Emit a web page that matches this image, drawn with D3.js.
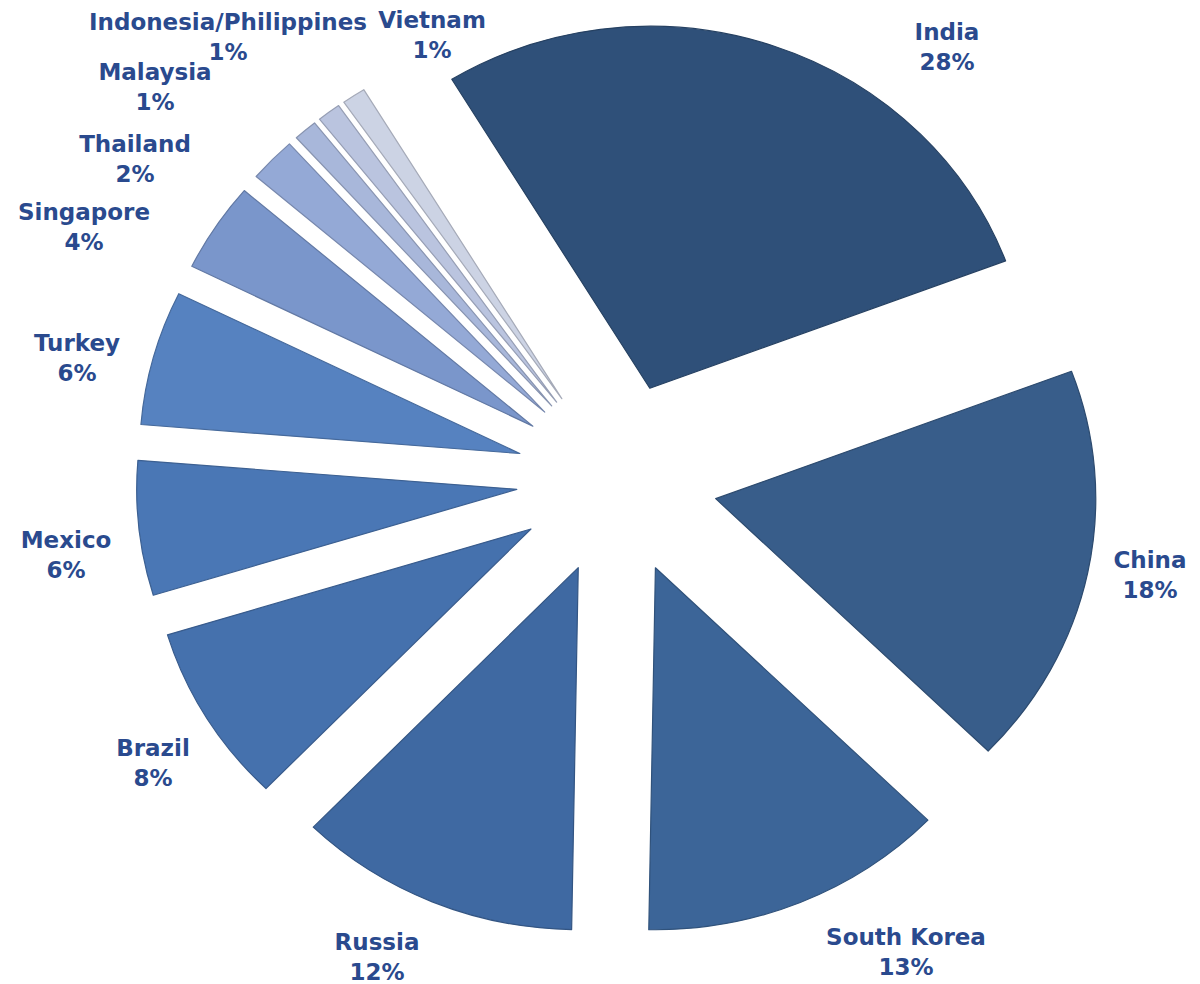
<!DOCTYPE html>
<html>
<head>
<meta charset="utf-8">
<script src="https://cdn.jsdelivr.net/npm/d3@7"></script>
<style>
  html, body { margin: 0; padding: 0; background: #ffffff; }
  svg { display: block; }
  .lbl { font-family: "DejaVu Sans", Verdana, sans-serif; font-weight: bold; font-size: 23px; fill: #2a4a8e; }
</style>
</head>
<body>
<svg id="chart" width="1200" height="984"></svg>
<script>
// Share of total by country (percent)
const countries = ["India", "China", "South Korea", "Russia", "Brazil", "Mexico",
                   "Turkey", "Singapore", "Thailand", "Malaysia", "Indonesia/Philippines", "Vietnam"];
const shares = [28, 18, 13, 12, 8, 6, 6, 4, 2, 1, 1, 1];

// Slice fills, darkest to lightest
const fills = ["#2f5079", "#385d8a", "#3c6598", "#3f69a2", "#4571ad", "#4a77b5",
               "#5682c0", "#7a96cb", "#94a9d6", "#a8b7da", "#bac4df", "#ccd3e4"];

// Label anchors (first-line baseline, centred)
const labelAnchors = [[947, 40], [1150, 568], [906, 945], [377, 950], [153, 756], [66, 548],
                      [77, 351], [84, 220], [135, 152], [155, 80], [228, 30], [432, 28]];

const cx = 617, cy = 479;      // pie centre
const radius = 362;            // slice radius
const explode = 96;            // distance each slice is pulled out
const stretchX = 1.05;         // horizontal aspect of the pie

const svg = d3.select("#chart");

const startDeg = -31.4;
const pie = d3.pie()
  .sort(null)
  .value(d => d.value)
  .startAngle(startDeg * Math.PI / 180)
  .endAngle((startDeg + 360) * Math.PI / 180);

const data = countries.map((c, i) => ({ name: c, value: shares[i], fill: fills[i] }));
const arcs = pie(data);

const arc = d3.arc().innerRadius(0).outerRadius(radius);

const g = svg.append("g")
  .attr("transform", `translate(${cx},${cy}) scale(${stretchX},1)`);

g.selectAll("path.slice")
  .data(arcs)
  .join("path")
  .attr("class", "slice")
  .attr("transform", d => {
    const mid = (d.startAngle + d.endAngle) / 2;
    return `translate(${Math.sin(mid) * explode},${-Math.cos(mid) * explode})`;
  })
  .attr("d", arc)
  .attr("fill", d => d.data.fill)
  .attr("stroke", d => d3.color(d.data.fill).darker(0.6))
  .attr("stroke-width", 1.2)
  .attr("vector-effect", "non-scaling-stroke")
  .attr("stroke-linejoin", "round");

// Two-line data labels: name and percentage
const labels = svg.selectAll("text.lbl")
  .data(arcs)
  .join("text")
  .attr("class", "lbl")
  .attr("text-anchor", "middle")
  .attr("x", (d, i) => labelAnchors[i][0])
  .attr("y", (d, i) => labelAnchors[i][1]);

labels.append("tspan")
  .attr("x", (d, i) => labelAnchors[i][0])
  .text(d => d.data.name);

labels.append("tspan")
  .attr("x", (d, i) => labelAnchors[i][0])
  .attr("dy", 30)
  .text(d => `${d.data.value}%`);
</script>
</body>
</html>
